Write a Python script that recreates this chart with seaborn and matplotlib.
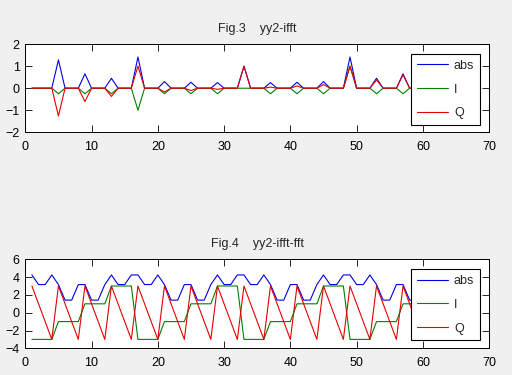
import numpy as np
import pandas as pd
import matplotlib
matplotlib.use("Agg")
import matplotlib.pyplot as plt
import seaborn as sns

# ---------------- data ----------------
n_samples = 64
# Fig.3 (yy2-ifft): non-zero samples only
spike_x = [5, 9, 13, 17, 21, 25, 29, 33, 37, 41, 45, 49, 53, 57, 61]
spike_abs = [1.282, 0.653, 0.450, 1.414, 0.301, 0.271, 0.255, 1.000,
             0.255, 0.271, 0.301, 1.414, 0.450, 0.653, 1.282]
spike_I = [-0.250, -0.250, -0.250, -1.000, -0.250, -0.250, -0.250, 0.000,
           -0.250, -0.250, -0.250, 1.000, -0.250, -0.250, -0.250]
spike_Q = [-1.257, -0.604, -0.374, 1.000, -0.167, -0.104, -0.050, 1.000,
           0.050, 0.104, 0.167, 1.000, 0.374, 0.604, 1.257]

# Fig.4 (yy2-ifft-fft)
bot_abs = [4.243, 3.162, 3.162, 4.243, 3.162, 1.414, 1.414, 3.162,
           3.162, 1.414, 1.414, 3.162, 4.243, 3.162, 3.162, 4.243,
           4.243, 3.162, 3.162, 4.243, 3.162, 1.414, 1.414, 3.162,
           3.162, 1.414, 1.414, 3.162, 4.243, 3.162, 3.162, 4.243,
           4.243, 3.162, 3.162, 4.243, 3.162, 1.414, 1.414, 3.162,
           3.162, 1.414, 1.414, 3.162, 4.243, 3.162, 3.162, 4.243,
           4.243, 3.162, 3.162, 4.243, 3.162, 1.414, 1.414, 3.162,
           3.162, 1.414, 1.414, 3.162, 4.243, 3.162, 3.162, 4.243]
bot_I = [-3, -3, -3, -3, -1, -1, -1, -1, 1, 1, 1, 1, 3, 3, 3, 3,
         -3, -3, -3, -3, -1, -1, -1, -1, 1, 1, 1, 1, 3, 3, 3, 3,
         -3, -3, -3, -3, -1, -1, -1, -1, 1, 1, 1, 1, 3, 3, 3, 3,
         -3, -3, -3, -3, -1, -1, -1, -1, 1, 1, 1, 1, 3, 3, 3, 3]
bot_Q = [3, 1, -1, -3, 3, 1, -1, -3, 3, 1, -1, -3, 3, 1, -1, -3,
         3, 1, -1, -3, 3, 1, -1, -3, 3, 1, -1, -3, 3, 1, -1, -3,
         3, 1, -1, -3, 3, 1, -1, -3, 3, 1, -1, -3, 3, 1, -1, -3,
         3, 1, -1, -3, 3, 1, -1, -3, 3, 1, -1, -3, 3, 1, -1, -3]

titles = ["Fig.3    yy2-ifft", "Fig.4    yy2-ifft-fft"]
series_names = ["abs", "I", "Q"]
x_ticks = [0, 10, 20, 30, 40, 50, 60, 70]
top_yticks = [-2, -1, 0, 1, 2]
bot_yticks = [-4, -2, 0, 2, 4, 6]

# ---------------- build tables ----------------
x = np.arange(1, n_samples + 1)
top_abs = np.zeros(n_samples)
top_I = np.zeros(n_samples)
top_Q = np.zeros(n_samples)
for xi, a, i, q in zip(spike_x, spike_abs, spike_I, spike_Q):
    top_abs[xi - 1] = a
    top_I[xi - 1] = i
    top_Q[xi - 1] = q

df_top = pd.DataFrame({"x": x, "abs": top_abs, "I": top_I, "Q": top_Q})
df_bot = pd.DataFrame({"x": x, "abs": bot_abs, "I": bot_I, "Q": bot_Q})

# ---------------- style ----------------
sns.set_style("ticks")
plt.rcParams["font.family"] = ["Liberation Sans", "DejaVu Sans"]
plt.rcParams["font.size"] = 9

colors = {"abs": (0, 0, 0.9), "I": (0, 0.5, 0), "Q": (0.9, 0, 0)}

fig = plt.figure(figsize=(5.12, 3.75), dpi=100, facecolor="#f0f0f0")
ax_top = fig.add_axes([0.0494, 0.647, 0.906, 0.2355])
ax_bot = fig.add_axes([0.0494, 0.0712, 0.906, 0.2373])

for ax, df, title, yl, yt in [
    (ax_top, df_top, titles[0], (-2, 2), top_yticks),
    (ax_bot, df_bot, titles[1], (-4, 6), bot_yticks),
]:
    ax.set_facecolor("white")
    for name in series_names:
        sns.lineplot(data=df, x="x", y=name, ax=ax, color=colors[name],
                     linewidth=0.8, label=name, estimator=None, sort=False)
    ax.set_xlim(0, 70)
    ax.set_ylim(*yl)
    ax.set_xticks(x_ticks)
    ax.set_yticks(yt)
    ax.set_xlabel("")
    ax.set_ylabel("")
    ax.set_title(title, fontsize=9, pad=9)
    ax.tick_params(direction="in", top=True, right=True, length=5,
                   width=0.6, labelsize=9, colors="black")
    ax.tick_params(axis="x", pad=6)
    ax.tick_params(axis="y", pad=4)
    for sp in ax.spines.values():
        sp.set_visible(True)
        sp.set_color("black")
        sp.set_linewidth(0.7)
    leg = ax.legend(loc="upper right", bbox_to_anchor=(0.98, 0.887),
                    borderaxespad=0, frameon=True, fancybox=False,
                    framealpha=1, edgecolor="black", fontsize=9,
                    handlelength=2.45, handletextpad=0.5, labelspacing=0.95,
                    borderpad=0.45)
    leg.get_frame().set_linewidth(0.8)

fig.savefig("out.png", dpi=100, facecolor=fig.get_facecolor())
